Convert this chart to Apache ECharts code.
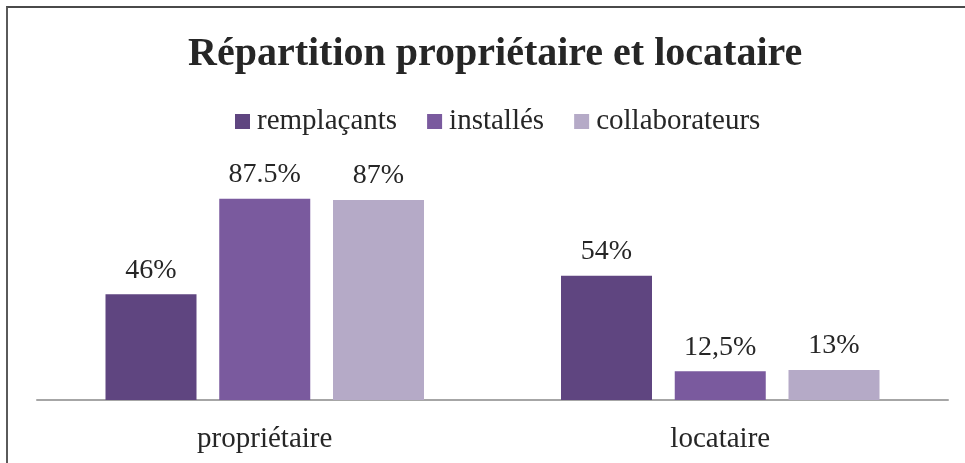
<!DOCTYPE html>
<html>
<head>
<meta charset="utf-8">
<script src="https://cdn.jsdelivr.net/npm/echarts@6/dist/echarts.min.js"></script>
<style>
  html, body { margin: 0; padding: 0; background: #fff; }
  #frame {
    position: absolute; left: 6px; top: 6px; width: 1000px; height: 500px;
    border-top: 2px solid #4a4a4a; border-left: 2px solid #5a5a5a;
  }
  #chart { position: absolute; left: 0; top: 0; width: 965px; height: 463px; }
</style>
</head>
<body>
<div id="frame"></div>
<div id="chart"></div>
<script>
// categories and series
const categories = ['propriétaire', 'locataire'];
const seriesNames = ['remplaçants', 'installés', 'collaborateurs'];
const remplacants = [46, 54];
const installes = [87.5, 12.5];
const collaborateurs = [87, 13];
// labels as written on the chart
const remplacantsLabels = ['46%', '54%'];
const installesLabels = ['87.5%', '12,5%'];
const collaborateursLabels = ['87%', '13%'];

const colors = ['#5f4580', '#7a5a9e', '#b5aac7'];
const textColor = '#262626';
const font = '"Liberation Serif", "DejaVu Serif", serif';

function barSeries(name, values, labels, color) {
  return {
    name: name,
    type: 'bar',
    data: values,
    barWidth: 91,
    barGap: '25%',
    itemStyle: { color: color },
    label: {
      show: true,
      position: 'top',
      distance: 10,
      fontFamily: font,
      fontSize: 28,
      color: textColor,
      formatter: p => labels[p.dataIndex],
    },
  };
}

const chart = echarts.init(document.getElementById('chart'));
chart.setOption({
  animation: false,
  textStyle: { fontFamily: font },
  title: {
    text: 'Répartition propriétaire et locataire',
    left: 183,
    top: 30,
    textStyle: {
      fontFamily: font,
      fontSize: 40,
      fontWeight: 'bold',
      color: textColor,
    },
  },
  legend: {
    data: seriesNames,
    left: 230,
    top: 102,
    icon: 'rect',
    itemWidth: 15,
    itemHeight: 15,
    itemGap: 30,
    textStyle: {
      fontFamily: font,
      fontSize: 29,
      color: textColor,
      padding: [0, 0, 0, 2],
    },
  },
  grid: {
    left: 37,
    right: 17,
    top: 170,
    bottom: 63,
    containLabel: false,
  },
  xAxis: {
    type: 'category',
    data: categories,
    axisTick: { show: false },
    axisLine: { lineStyle: { color: '#a6a6a6', width: 2 } },
    axisLabel: {
      margin: 25,
      fontFamily: font,
      fontSize: 29,
      color: textColor,
    },
  },
  yAxis: {
    type: 'value',
    min: 0,
    max: 100,
    show: false,
    splitLine: { show: false },
  },
  series: [
    barSeries(seriesNames[0], remplacants, remplacantsLabels, colors[0]),
    barSeries(seriesNames[1], installes, installesLabels, colors[1]),
    barSeries(seriesNames[2], collaborateurs, collaborateursLabels, colors[2]),
  ],
});
</script>
</body>
</html>
